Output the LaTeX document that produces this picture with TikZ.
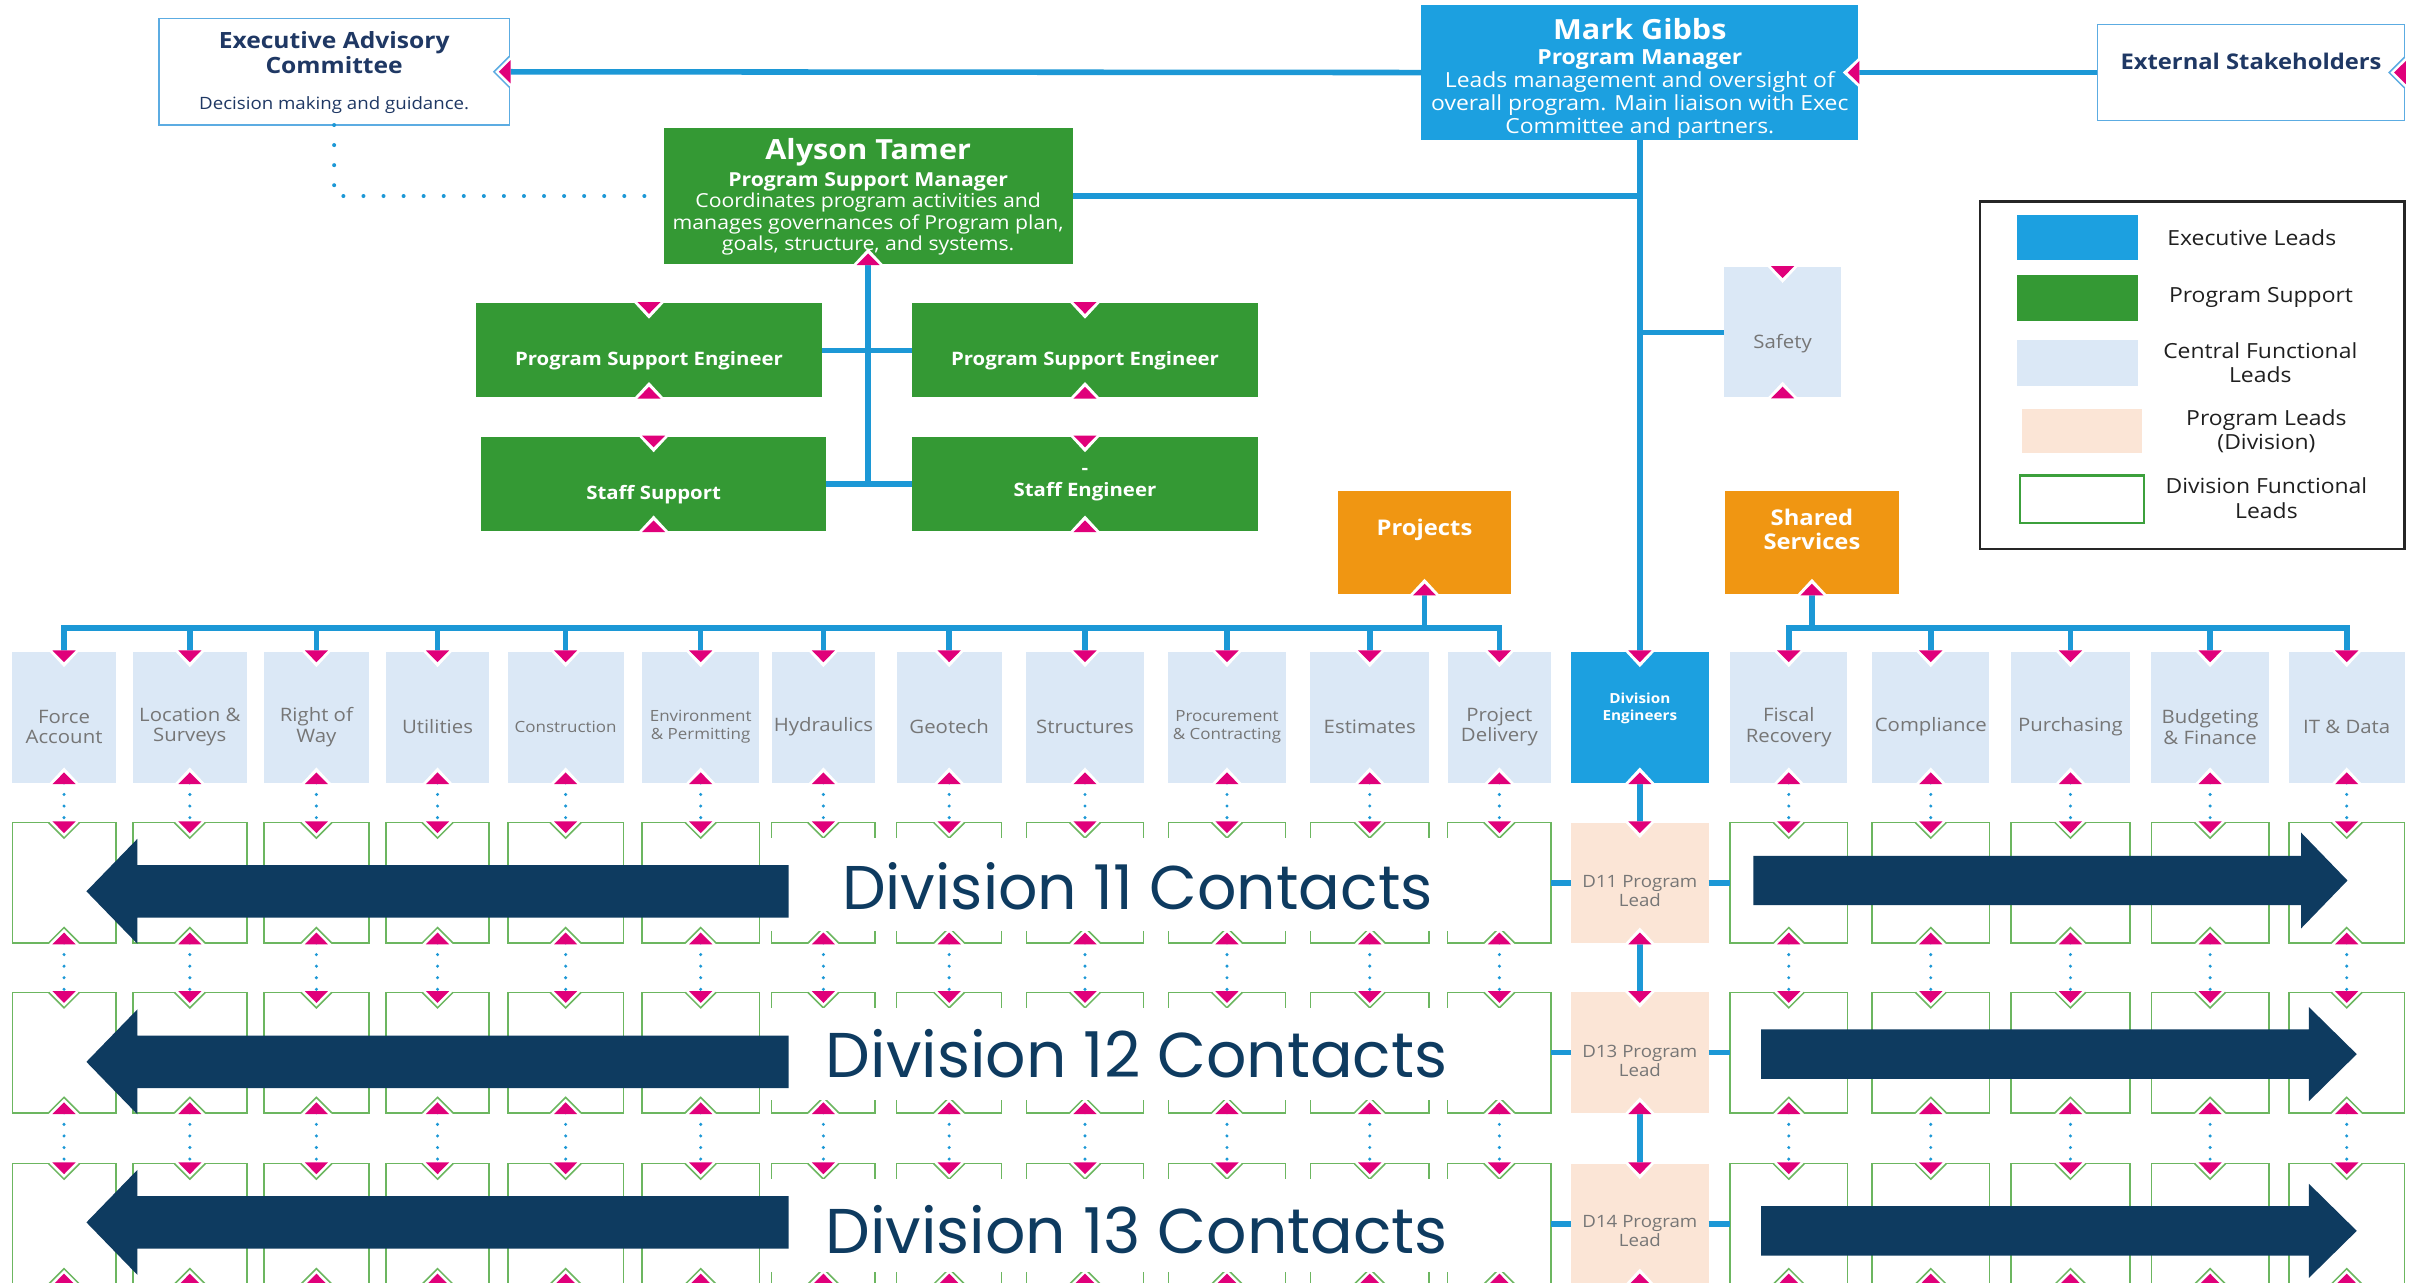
\documentclass[tikz,border=0pt]{standalone}
\usepackage{fontspec}
\setmainfont{Open Sans}[FakeStretch=1.1]
\newfontfamily\contactfont{Poppins}

% colours
\definecolor{execblue}{RGB}{28,160,224}
\definecolor{linkblue}{RGB}{28,152,214}
\definecolor{supgreen}{RGB}{52,153,52}
\definecolor{centblue}{RGB}{219,232,246}
\definecolor{leadpeach}{RGB}{251,229,214}
\definecolor{projorange}{RGB}{240,150,18}
\definecolor{tipred}{RGB}{224,0,122}
\definecolor{titlenavy}{RGB}{31,56,100}
\definecolor{contactnavy}{RGB}{14,59,96}
\definecolor{divgreen}{RGB}{108,182,96}
\definecolor{legendgreen}{RGB}{60,160,60}
\definecolor{labelgray}{RGB}{118,118,118}
\definecolor{outblue}{RGB}{92,172,226}

\tikzset{
  boxsize/.style 2 args={inner sep=0pt, outer sep=0pt, minimum width=#1, minimum height=#2},
  execbox/.style={fill=execblue},
  supbox/.style={fill=supgreen},
  centbox/.style={fill=centblue},
  leadbox/.style={fill=leadpeach},
  projbox/.style={fill=projorange},
  divbox/.style={draw=divgreen, line width=1pt, fill=white},
  outbox/.style={draw=outblue, line width=1pt, fill=white},
  txt/.style={inner sep=0pt, align=center},
  graytxt/.style={txt, text=labelgray},
  whitetxt/.style={txt, text=white},
  legtxt/.style={txt, text=black!88, font=\fontsize{13.5}{16}\selectfont},
  bluelink/.style={draw=linkblue, line width=3.6pt},
  dotlink/.style={draw=linkblue, line width=2.2pt, line cap=round, dash pattern=on 0pt off 7.5pt},
  tipdown/.pic={
    \fill[white] (-10,-0.8) -- (0,10) -- (10,-0.8) -- cycle;
    \path[pic actions] (-10,0) -- (0,10) -- (10,0);
    \fill[tipred] (-7.5,-0.8) -- (0,6.8) -- (7.5,-0.8) -- cycle;
  },
  tipup/.pic={
    \fill[white] (-10,0.8) -- (0,-10) -- (10,0.8) -- cycle;
    \path[pic actions] (-10,0) -- (0,-10) -- (10,0);
    \fill[tipred] (-7.5,0.8) -- (0,-6.8) -- (7.5,0.8) -- cycle;
  },
  tipleft/.pic={
    \fill[white] (0.8,-10) -- (-10,0) -- (0.8,10) -- cycle;
    \path[pic actions] (0,-10) -- (-10,0) -- (0,10);
    \fill[tipred] (0.8,-7.5) -- (-6.8,0) -- (0.8,7.5) -- cycle;
  },
}

\begin{document}
\begin{tikzpicture}[x=1pt, y=-1pt]
\path[use as bounding box, fill=white] (0,0) rectangle (1568,831);

% executive level
\node[boxsize={227}{69}, outbox] (eac) at (216.5,46.5) {};
\node[txt, text=titlenavy, font=\bfseries\fontsize{14.5}{16}\selectfont] (eac-t) at (216.5,34) {Executive Advisory\\Committee};
\node[txt, text=titlenavy, font=\fontsize{11}{13}\selectfont] (eac-s) at (216.5,68) {Decision making and guidance.};

\node[boxsize={283}{87}, execbox] (mgr) at (1062.5,47) {};
\node[whitetxt, font=\bfseries\fontsize{18}{20}\selectfont] (mgr-n) at (1062.5,19) {Mark Gibbs};
\node[whitetxt, font=\fontsize{13.5}{14.9}\selectfont] (mgr-t) at (1062.5,61) {\textbf{Program Manager}\\Leads management and oversight of\\overall program. Main liaison with Exec\\Committee and partners.};

\node[boxsize={199}{62}, outbox] (ext) at (1458.5,47) {};
\node[txt, text=titlenavy, font=\bfseries\fontsize{14}{16}\selectfont] (ext-t) at (1458.5,40) {External Stakeholders};

% program support
\node[boxsize={265}{88}, supbox] (psm) at (562.5,127) {};
\node[whitetxt, font=\bfseries\fontsize{18}{20}\selectfont] (psm-n) at (562.5,98.5) {Alyson Tamer};
\node[whitetxt, font=\fontsize{12.5}{14}\selectfont] (psm-t) at (562.5,138.5) {\textbf{Program Support Manager}\\Coordinates program activities and\\manages governances of Program plan,\\goals, structure, and systems.};

\node[boxsize={224}{61}, supbox] (pse1) at (420.5,227) {};
\node[boxsize={224}{61}, supbox] (pse2) at (703,227) {};
\node[boxsize={224}{61}, supbox] (stsup) at (423.5,313.5) {};
\node[boxsize={224}{61}, supbox] (steng) at (703,313.5) {};
\node[whitetxt, font=\bfseries\fontsize{12}{14}\selectfont] (pse1-t) at (420.5,234) {Program Support Engineer};
\node[whitetxt, font=\bfseries\fontsize{12}{14}\selectfont] (pse2-t) at (703,234) {Program Support Engineer};
\node[whitetxt, font=\bfseries\fontsize{12}{14}\selectfont] (stsup-t) at (423.5,320.5) {Staff Support};
\node[whitetxt, font=\bfseries\fontsize{12}{14}\selectfont] (steng-t) at (703,314) {-\\Staff Engineer};

% safety, projects, shared services
\node[boxsize={76}{84}, centbox] (safe) at (1155,215.3) {};
\node[graytxt, font=\fontsize{12}{14}\selectfont] (safe-t) at (1155,222.5) {Safety};
\node[boxsize={112}{67}, projbox] (proj) at (923,351.5) {};
\node[whitetxt, font=\bfseries\fontsize{14}{16}\selectfont] (proj-t) at (923,343) {Projects};
\node[boxsize={113}{67}, projbox] (shared) at (1174,351.5) {};
\node[whitetxt, font=\bfseries\fontsize{14}{16}\selectfont] (shared-t) at (1174,343) {Shared\\Services};

% legend
\node[boxsize={275}{225}, draw=black!85, line width=1.5pt] (legend) at (1420.5,243) {};
\node[boxsize={78}{29}, execbox] (lg-exec) at (1346,153.9) {};
\node[boxsize={78}{30}, supbox] (lg-sup) at (1346,192.9) {};
\node[boxsize={78}{30}, centbox] (lg-cent) at (1346,235.4) {};
\node[boxsize={78}{29}, leadbox] (lg-lead) at (1349,279.2) {};
\node[boxsize={80}{31}, draw=legendgreen, line width=1.5pt] (lg-div) at (1349,323.5) {};
\node[legtxt] (lg-exec-t) at (1459,153.8) {Executive Leads};
\node[legtxt] (lg-sup-t) at (1465,192.6) {Program Support};
\node[legtxt] (lg-cent-t) at (1464.5,235) {Central Functional\\Leads};
\node[legtxt] (lg-lead-t) at (1468.5,279.4) {Program Leads\\(Division)};
\node[legtxt] (lg-div-t) at (1468.5,323) {Division Functional\\Leads};

% central functional leads
\foreach \n/\x/\w/\fs/\bs/\t in {
  fa/41.5/67/12/13.5/{Force\\Account},
  ls/123/74/12/13.5/{Location \&\\Surveys},
  rw/205/68/12/13.5/{Right of\\Way},
  ut/283.5/67/12/13.5/Utilities,
  cn/366.5/75/10/11.5/Construction,
  ep/454/76/10/11.5/{Environment\\\& Permitting},
  hy/533.5/67/12/13.5/Hydraulics,
  gt/615/68/12/13.5/Geotech,
  st/703/76/12/13.5/Structures,
  pc/795/76/10/11.5/{Procurement\\\& Contracting},
  es/887.5/77/12/13.5/Estimates,
  pd/971.5/67/12/13.5/{Project\\Delivery},
  fr/1159/76/12/13.5/{Fiscal\\Recovery},
  cm/1251/76/12/13.5/Compliance,
  pu/1341.5/77/12/13.5/Purchasing,
  bf/1432/76/12/13.5/{Budgeting\\\& Finance},
  it/1520.5/75/12/13.5/{IT \& Data}}{
  \node[boxsize={\w}{85}, centbox] (\n) at (\x,464.75) {};
  \node[graytxt, font=\fontsize{\fs}{\bs}\selectfont] (\n-t) at (\x,471) {\t};
}
\node[boxsize={89}{85}, execbox] (de) at (1062.5,464.75) {};
\node[whitetxt, font=\bfseries\fontsize{9}{11}\selectfont] (de-t) at (1062.5,459) {Division\\Engineers};

% division functional leads
\foreach \n/\x/\w in {fa/41.5/67, ls/123/74, rw/205/68, ut/283.5/67, cn/366.5/75,
  ep/454/76, hy/533.5/67, gt/615/68, st/703/76, pc/795/76, es/887.5/77, pd/971.5/67,
  fr/1159/76, cm/1251/76, pu/1341.5/77, bf/1432/76, it/1520.5/75}{
  \node[boxsize={\w}{78}, divbox] (\n11) at (\x,572) {};
  \node[boxsize={\w}{78}, divbox] (\n12) at (\x,682) {};
  \node[boxsize={\w}{78}, divbox] (\n13) at (\x,793) {};
}

% division program leads
\node[boxsize={89}{78}, leadbox] (d11) at (1062.5,572) {};
\node[boxsize={89}{78}, leadbox] (d13) at (1062.5,682) {};
\node[boxsize={89}{78}, leadbox] (d14) at (1062.5,793) {};
\node[graytxt, font=\fontsize{11}{12.5}\selectfont] (d11-t) at (1062.5,577.5) {D11 Program\\Lead};
\node[graytxt, font=\fontsize{11}{12.5}\selectfont] (d13-t) at (1062.5,687.5) {D13 Program\\Lead};
\node[graytxt, font=\fontsize{11}{12.5}\selectfont] (d14-t) at (1062.5,797.5) {D14 Program\\Lead};

% connectors
\coordinate (bus) at (0,407);
\draw[bluelink] (mgr.west) -- (eac.east);
\draw[bluelink] (mgr.east) -- (ext.west);
\draw[bluelink] (mgr.south) -- (de.north);
\draw[bluelink] (mgr.south |- psm.east) -- (psm.east);
\draw[bluelink] (mgr.south |- safe.west) -- (safe.west);
\draw[linkblue, line width=2.6pt, line cap=round, dash pattern=on 0pt off 13pt] (eac.south) |- (psm.west);
\draw[bluelink] (psm.south) -- (psm.south |- stsup.east);
\draw[bluelink] (pse1.east) -- (pse2.west);
\draw[bluelink] (stsup.east) -- (steng.west);
\draw[bluelink] (proj.south) -- (proj.south |- bus);
\draw[bluelink] (shared.south) -- (shared.south |- bus);
\draw[bluelink] (fa.north) -- (fa.north |- bus) -- (pd.north |- bus) -- (pd.north);
\draw[bluelink] (fr.north) -- (fr.north |- bus) -- (it.north |- bus) -- (it.north);
\foreach \n in {ls,rw,ut,cn,ep,hy,gt,st,pc,es,cm,pu,bf}
  \draw[bluelink] (\n.north |- bus) -- (\n.north);
\foreach \n in {fa,ls,rw,ut,cn,ep,hy,gt,st,pc,es,pd,fr,cm,pu,bf,it}{
  \draw[dotlink] (\n.south) -- (\n11.north);
  \draw[dotlink] (\n11.south) -- (\n12.north);
  \draw[dotlink] (\n12.south) -- (\n13.north);
}
\draw[bluelink] (de.south) -- (d11.north);
\draw[bluelink] (d11.south) -- (d13.north);
\draw[bluelink] (d13.south) -- (d14.north);
\draw[bluelink] (pd11.east) -- (d11.west);
\draw[bluelink] (d11.east) -- (fr11.west);
\draw[bluelink] (pd12.east) -- (d13.west);
\draw[bluelink] (d13.east) -- (fr12.west);
\draw[bluelink] (pd13.east) -- (d14.west);
\draw[bluelink] (d14.east) -- (fr13.west);

% arrow notches
\pic[draw=outblue, line width=1pt] at (eac.east) {tipleft};
\pic at (mgr.east) {tipleft};
\pic[draw=outblue, line width=1pt] at (ext.east) {tipleft};
\pic at (psm.south) {tipup};
\foreach \n in {pse1,pse2,stsup,steng,safe,fa,ls,rw,ut,cn,ep,hy,gt,st,pc,es,pd,de,fr,cm,pu,bf,it,d11,d13,d14}{
  \pic at (\n.north) {tipdown};
  \pic at (\n.south) {tipup};
}
\pic at (proj.south) {tipup};
\pic at (shared.south) {tipup};
\foreach \n in {fa,ls,rw,ut,cn,ep,hy,gt,st,pc,es,pd,fr,cm,pu,bf,it}
  \foreach \r in {11,12,13}{
    \pic[draw=divgreen, line width=1pt] at (\n\r.north) {tipdown};
    \pic[draw=divgreen, line width=1pt] at (\n\r.south) {tipup};
  }

% division contact banners
\fill[white] (493,543) rectangle (1003,603);
\fill[white] (493,653) rectangle (1003,713);
\fill[white] (493,764) rectangle (1003,824);
\node[txt, text=contactnavy, font=\contactfont\fontsize{40}{44}\selectfont] (div11) at (737,574) {Division 11 Contacts};
\node[txt, text=contactnavy, font=\contactfont\fontsize{41}{44}\selectfont] (div12) at (736.5,683) {Division 12 Contacts};
\node[txt, text=contactnavy, font=\contactfont\fontsize{41}{44}\selectfont] (div13) at (736.5,797) {Division 13 Contacts};

\fill[contactnavy] (511,560.5) -- (89,560.5) -- (89,543.5) -- (56,577.5) -- (89,611.5) -- (89,594.5) -- (511,594.5) -- cycle;
\fill[contactnavy] (511,671) -- (89,671) -- (89,654) -- (56,688) -- (89,722) -- (89,705) -- (511,705) -- cycle;
\fill[contactnavy] (511,775) -- (89,775) -- (89,758) -- (56,792) -- (89,826) -- (89,809) -- (511,809) -- cycle;

\fill[contactnavy] (1136,554.5) -- (1491,554.5) -- (1491,539.5) -- (1521,570.5) -- (1491,601.5) -- (1491,586.5) -- (1136,586.5) -- cycle;
\fill[contactnavy] (1141,667) -- (1496,667) -- (1496,652.5) -- (1527,683) -- (1496,713.5) -- (1496,699) -- (1141,699) -- cycle;
\fill[contactnavy] (1141,781.5) -- (1496,781.5) -- (1496,767) -- (1527,797.5) -- (1496,828) -- (1496,813.5) -- (1141,813.5) -- cycle;
\end{tikzpicture}
\end{document}
